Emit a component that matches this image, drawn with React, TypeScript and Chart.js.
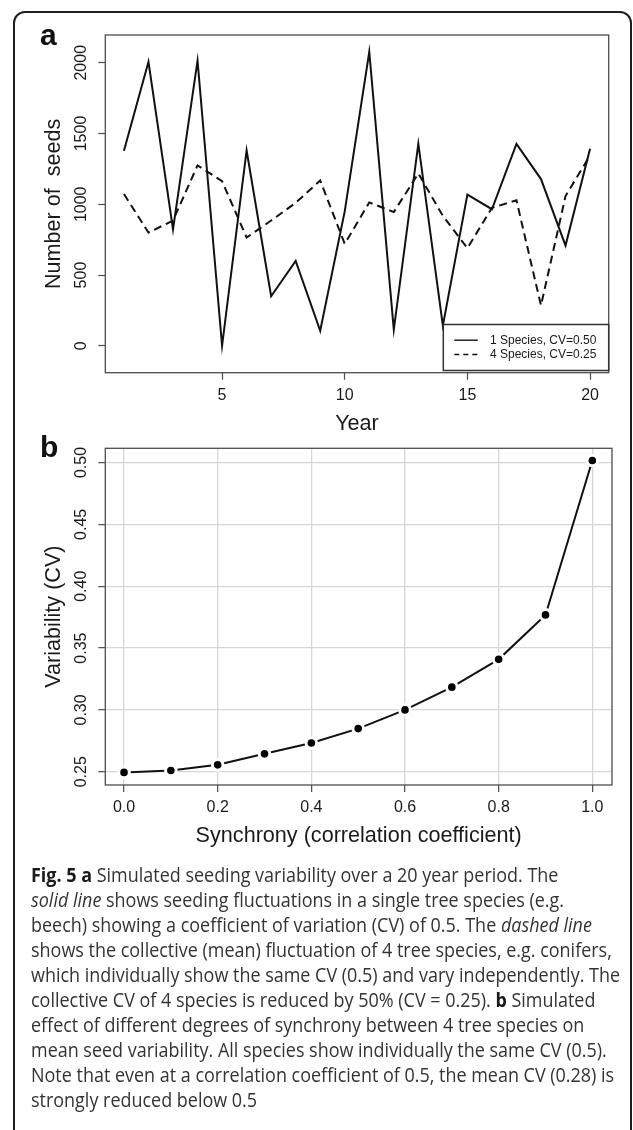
import React, { useEffect, useLayoutEffect, useRef, useState } from 'react';
import { Chart, registerables } from 'chart.js';

Chart.register(...registerables);

// ---------- data ----------
const years = [1, 2, 3, 4, 5, 6, 7, 8, 9, 10, 11, 12, 13, 14, 15, 16, 17, 18, 19, 20];
const oneSpecies = [1378, 2007, 823, 2015, 0, 1380, 350, 600, 106, 950, 2077, 115, 1428, 142, 1068, 965, 1427, 1178, 708, 1392];
const fourSpecies = [1072, 800, 885, 1275, 1163, 765, 885, 1010, 1168, 720, 1013, 945, 1218, 918, 690, 975, 1028, 285, 1058, 1345];
const yearTicks = [5, 10, 15, 20];
const seedTicks = [0, 500, 1000, 1500, 2000];
const seedTickLabels = ['0', '500', '1000', '1500', '2000'];
const legendLabels = ['1 Species, CV=0.50', '4 Species, CV=0.25'];

const synchrony = [0, 0.1, 0.2, 0.3, 0.4, 0.5, 0.6, 0.7, 0.8, 0.9, 1.0];
const variability = [0.2495, 0.251, 0.2556, 0.2645, 0.2733, 0.2849, 0.3, 0.3184, 0.3409, 0.3768, 0.5016];
const syncTicks = [0, 0.2, 0.4, 0.6, 0.8, 1.0];
const syncTickLabels = ['0.0', '0.2', '0.4', '0.6', '0.8', '1.0'];
const cvTicks = [0.25, 0.3, 0.35, 0.4, 0.45, 0.5];
const cvTickLabels = ['0.25', '0.30', '0.35', '0.40', '0.45', '0.50'];

// ---------- styles ----------
const FONT = '"Liberation Sans", Arial, sans-serif';
const TEXT = '#1a1a1a';
const AXIS = '#4d4d4d';

function yLabelPlugin(values: number[], labels: string[]) {
  return {
    id: 'rotYLabels',
    afterDraw(chart: any) {
      const s = chart.scales.y;
      const ctx = chart.ctx;
      ctx.save();
      ctx.font = `16px ${FONT}`;
      ctx.fillStyle = TEXT;
      ctx.textAlign = 'center';
      ctx.textBaseline = 'middle';
      values.forEach((v, i) => {
        const y = s.getPixelForValue(v);
        ctx.save();
        ctx.translate(chart.chartArea.left - 23.5, y);
        ctx.rotate(-Math.PI / 2);
        ctx.fillText(labels[i], 0, 0);
        ctx.restore();
      });
      ctx.restore();
    },
  };
}

const framePlugin = {
  id: 'frame',
  afterDatasetsDraw(chart: any) {
    const { ctx, chartArea: a } = chart;
    ctx.save();
    ctx.strokeStyle = AXIS;
    ctx.lineWidth = 1.3;
    ctx.strokeRect(a.left, a.top, a.right - a.left, a.bottom - a.top);
    ctx.restore();
  },
};

const legendPlugin = {
  id: 'boxLegend',
  afterDraw(chart: any) {
    const { ctx, chartArea: a } = chart;
    const w = 165.4;
    const h = 46;
    const x0 = a.right - w;
    const y0 = a.bottom - 2.2 - h;
    ctx.save();
    ctx.fillStyle = '#fff';
    ctx.fillRect(x0, y0, w, h);
    ctx.strokeStyle = '#333';
    ctx.lineWidth = 1.5;
    ctx.strokeRect(x0, y0, w, h);
    chart.data.datasets.forEach((ds: any, i: number) => {
      const y = y0 + 15.7 + i * 14.3;
      ctx.setLineDash(ds.borderDash && ds.borderDash.length ? [5, 4] : []);
      ctx.strokeStyle = ds.borderColor;
      ctx.lineWidth = 1.4;
      ctx.beginPath();
      ctx.moveTo(x0 + 11, y);
      ctx.lineTo(x0 + 34.5, y);
      ctx.stroke();
      ctx.setLineDash([]);
      ctx.fillStyle = TEXT;
      ctx.font = `12px ${FONT}`;
      ctx.textAlign = 'left';
      ctx.textBaseline = 'middle';
      ctx.fillText(ds.label, x0 + 46.7, y);
    });
    ctx.restore();
  },
};

function tickFont() {
  return { family: FONT, size: 16 };
}
function titleFont() {
  return { family: FONT, size: 21.6 };
}

function PanelA() {
  const ref = useRef<HTMLCanvasElement>(null);
  useEffect(() => {
    const chart = new Chart(ref.current as HTMLCanvasElement, {
      type: 'line',
      data: {
        datasets: [
          {
            label: legendLabels[0],
            data: years.map((x, i) => ({ x, y: oneSpecies[i] })),
            borderColor: '#111',
            borderWidth: 2,
            pointRadius: 0,
            tension: 0,
            fill: false,
          },
          {
            label: legendLabels[1],
            data: years.map((x, i) => ({ x, y: fourSpecies[i] })),
            borderColor: '#111',
            borderWidth: 2,
            borderDash: [8, 5],
            pointRadius: 0,
            tension: 0,
            fill: false,
          },
        ],
      },
      options: {
        animation: false,
        responsive: false,
        devicePixelRatio: 1,
        layout: { padding: { top: 35, right: 24.3, left: 0, bottom: 0 } },
        plugins: { legend: { display: false }, tooltip: { enabled: false } },
        scales: {
          x: {
            type: 'linear',
            min: 0.24,
            max: 20.76,
            afterBuildTicks: (s: any) => {
              s.ticks = yearTicks.map((v) => ({ value: v }));
            },
            afterFit: (s: any) => {
              s.height = 67.3;
            },
            grid: { drawOnChartArea: false, drawTicks: true, tickLength: 7, tickColor: AXIS, tickWidth: 1.2 },
            border: { display: false },
            ticks: { font: tickFont(), color: TEXT, padding: 6, maxRotation: 0, autoSkip: false, callback: (v: any) => String(v) },
            title: { display: true, text: 'Year', font: titleFont(), color: TEXT, padding: { top: 0, bottom: 3 } },
          },
          y: {
            type: 'linear',
            min: -190,
            max: 2196,
            afterBuildTicks: (s: any) => {
              s.ticks = seedTicks.map((v) => ({ value: v }));
            },
            afterFit: (s: any) => {
              s.width = 105.3;
            },
            grid: { drawOnChartArea: false, drawTicks: true, tickLength: 7, tickColor: AXIS, tickWidth: 1.2 },
            border: { display: false },
            ticks: { display: false },
            title: { display: true, text: 'Number of  seeds', font: titleFont(), color: TEXT, padding: { top: 41, bottom: 0 } },
          },
        },
      },
      plugins: [framePlugin, yLabelPlugin(seedTicks, seedTickLabels), legendPlugin],
    } as any);
    return () => chart.destroy();
  }, []);
  return (
    <canvas
      ref={ref}
      width={633}
      height={440}
      style={{ position: 'absolute', left: 0, top: 0, width: 633, height: 440, display: 'block' }}
    />
  );
}

function PanelB() {
  const ref = useRef<HTMLCanvasElement>(null);
  useEffect(() => {
    const chart = new Chart(ref.current as HTMLCanvasElement, {
      type: 'line',
      data: {
        datasets: [
          {
            label: 'CV',
            data: synchrony.map((x, i) => ({ x, y: variability[i] })),
            borderColor: '#111',
            borderWidth: 2,
            pointRadius: 5.3,
            pointBorderWidth: 3,
            pointBackgroundColor: '#000',
            pointBorderColor: '#fff',
            tension: 0,
            fill: false,
          },
        ],
      },
      options: {
        animation: false,
        responsive: false,
        devicePixelRatio: 1,
        layout: { padding: { top: 6.7, right: 21, left: 0, bottom: 0 } },
        plugins: { legend: { display: false }, tooltip: { enabled: false } },
        scales: {
          x: {
            type: 'linear',
            min: -0.04,
            max: 1.042,
            afterBuildTicks: (s: any) => {
              s.ticks = syncTicks.map((v) => ({ value: v }));
            },
            afterFit: (s: any) => {
              s.height = 95;
            },
            grid: { drawOnChartArea: true, color: '#d6d6d6', lineWidth: 1.3, drawTicks: true, tickLength: 7, tickColor: AXIS, tickWidth: 1.2 },
            border: { display: false },
            ticks: {
              font: tickFont(),
              color: TEXT,
              padding: 5.6,
              maxRotation: 0,
              autoSkip: false,
              callback: (v: any) => {
                const i = syncTicks.findIndex((t) => Math.abs(t - v) < 1e-9);
                return i >= 0 ? syncTickLabels[i] : '';
              },
            },
            title: { display: true, text: 'Synchrony (correlation coefficient)', font: titleFont(), color: TEXT, padding: { top: 0, bottom: 31.2 } },
          },
          y: {
            type: 'linear',
            min: 0.2393,
            max: 0.5115,
            afterBuildTicks: (s: any) => {
              s.ticks = cvTicks.map((v) => ({ value: v }));
            },
            afterFit: (s: any) => {
              s.width = 105.3;
            },
            grid: { drawOnChartArea: true, color: '#d6d6d6', lineWidth: 1.3, drawTicks: true, tickLength: 7, tickColor: AXIS, tickWidth: 1.2 },
            border: { display: false },
            ticks: { display: false },
            title: { display: true, text: 'Variability (CV)', font: titleFont(), color: TEXT, padding: { top: 41, bottom: 0 } },
          },
        },
      },
      plugins: [framePlugin, yLabelPlugin(cvTicks, cvTickLabels)],
    } as any);
    return () => chart.destroy();
  }, []);
  return (
    <canvas
      ref={ref}
      width={633}
      height={440}
      style={{ position: 'absolute', left: 0, top: 440, width: 633, height: 440, display: 'block' }}
    />
  );
}

function Caption() {
  const lineRef = useRef<HTMLDivElement>(null);
  const [k, setK] = useState(1);
  useLayoutEffect(() => {
    const measure = () => {
      if (lineRef.current) {
        const w = lineRef.current.scrollWidth;
        if (w > 0) setK(589.4 / w);
      }
    };
    measure();
    if ((document as any).fonts && (document as any).fonts.ready) {
      (document as any).fonts.ready.then(measure);
    }
  }, []);
  const line: React.CSSProperties = { whiteSpace: 'pre', height: 25, display: 'block', width: 'max-content' };
  return (
    <div
      style={{
        position: 'absolute',
        left: 30.5,
        top: 861.6,
        fontFamily: '"Open Sans", "Noto Sans", sans-serif',
        fontSize: 19.6,
        lineHeight: '25px',
        color: '#333',
        transform: `scaleX(${k})`,
        transformOrigin: 'left top',
      }}
    >
      <div style={line}>
        <b style={{ color: '#1a1a1a' }}>Fig. 5 a</b> Simulated seeding variability over a 20 year period. The
      </div>
      <div style={line}>
        <i>solid line</i> shows seeding fluctuations in a single tree species (e.g.
      </div>
      <div style={line}>
        beech) showing a coefficient of variation (CV) of 0.5. The <i>dashed line</i>
      </div>
      <div style={line}>shows the collective (mean) fluctuation of 4 tree species, e.g. conifers,</div>
      <div style={line} ref={lineRef}>
        which individually show the same CV (0.5) and vary independently. The
      </div>
      <div style={line}>
        collective CV of 4 species is reduced by 50% (CV = 0.25). <b style={{ color: '#1a1a1a' }}>b</b> Simulated
      </div>
      <div style={line}>effect of different degrees of synchrony between 4 tree species on</div>
      <div style={line}>mean seed variability. All species show individually the same CV (0.5).</div>
      <div style={line}>Note that even at a correlation coefficient of 0.5, the mean CV (0.28) is</div>
      <div style={line}>strongly reduced below 0.5</div>
    </div>
  );
}

export default function App() {
  const letter: React.CSSProperties = {
    position: 'absolute',
    fontFamily: FONT,
    fontWeight: 'bold',
    fontSize: 30,
    lineHeight: '30px',
    color: '#111',
  };
  return (
    <div
      style={{
        position: 'absolute',
        left: 0,
        top: 0,
        width: 633,
        height: 1130,
        overflow: 'hidden',
        background: '#fff',
      }}
    >
      <div
        style={{
          position: 'absolute',
          left: 13,
          top: 11,
          width: 619,
          height: 1140,
          border: '2px solid #1e1e1e',
          borderRadius: 12,
          boxSizing: 'border-box',
        }}
      />
      <PanelA />
      <PanelB />
      <div style={{ ...letter, left: 40, top: 19.6 }}>a</div>
      <div style={{ ...letter, left: 40, top: 432.3 }}>b</div>
      <Caption />
    </div>
  );
}
